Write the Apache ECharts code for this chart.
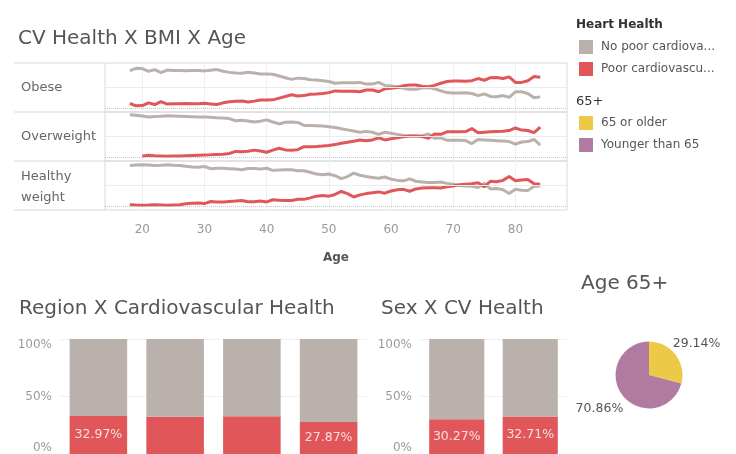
<!DOCTYPE html>
<html><head><meta charset="utf-8">
<script src="https://cdn.jsdelivr.net/npm/echarts@6/dist/echarts.min.js"></script>
<style>html,body{margin:0;padding:0;background:#fff}#c{width:736px;height:454px}</style>
</head><body><div id="c"></div>
<script>
// ---- data ----
const ages = [18,19,20,21,22,23,24,25,26,27,28,29,30,31,32,33,34,35,36,37,38,39,40,41,42,43,44,45,46,47,48,49,50,51,52,53,54,55,56,57,58,59,60,61,62,63,64,65,66,67,68,69,70,71,72,73,74,75,76,77,78,79,80,81,82,83,84];
const ageTicks = [20,30,40,50,60,70,80];
const bmiGroups = ['Obese','Overweight','Healthy\nweight'];
const heartHealth = ['No poor cardiovascular health','Poor cardiovascular health'];

const obeseRed = [11.5,6,6.5,13,9,16,10,11,11,11.5, 11,11,12,10.5,9,13,15.5,17,17.5,15, 17,19.5,19.5,20,24,28,32,29,30,33, 33.5,35,37,41,40,40,40,39,43,43, 39,46,47.5,49,53,55,55,52,51,54, 59,63,64,64,63.5,65,70,66,72,72.5, 70,74,61,61,65,75,73];
const obeseGrey = [88.5,94,93.5,87,91,84,90,89,89,88.5, 89,89,88,89.5,91,87,84.5,83,82.5,85, 83,80.5,80.5,80,76,72,68,71,70,67, 66.5,65,63,59,60,60,60,61,57,57, 61,54,52.5,51,47,45,45,48,49,46, 41,37,36,36,36.5,35,30,34,28,27.5, 30,26,39,39,35,25,27];
const overweightRed = [null,null,3,5,4,3.5,2.5,3,3.5,4, 4.5,5,5.5,6,7,7.5,9,14,13,14.5, 17,15,12,17,21.5,17.5,17,18,25,25, 25.5,26.5,28,30,33,35.5,38,41,39,41, 46,41,43.5,46,48.5,50,50,49,45,55, 54,60,60,60,60.5,67.5,58,59,60,61, 61.5,63,69,64,63,58,71];
const overweightGrey = [100,99,97,95,96,96.5,97.5,97,96.5,96, 95.5,95,94.5,94,93,92.5,91,86,87,85.5, 83,85,88,83,78.5,82.5,83,82,75,75, 74.5,73.5,72,70,67,64.5,62,59,61,59, 54,59,56.5,54,51.5,50,50,51,55,45, 46,40,40,40,39.5,32.5,42,41,40,39, 38.5,37,31,36,37,42,29];
const healthyRed = [4,3,2.5,3,4,3.5,2.5,3.5,4,6, 7.5,8,6.5,11.5,10.5,10.5,11.5,12.5,14,11, 11,12.5,10.5,15.5,14.5,14,14,16.5,16.5,20, 24,25.5,24,28,35,30,22,27,30,32, 34,31,36,39,40,35.5,41,43,44,44, 43,46,48,51,52,53,55.5,46,59,58, 61,70,60,62,63,53,52];
const healthyGrey = [96,97,97.5,97,96,96.5,97.5,96.5,96,94, 92.5,92,93.5,88.5,89.5,89.5,88.5,87.5,86,89, 89,87.5,89.5,84.5,85.5,86,86,83.5,83.5,80, 76,74.5,76,72,65,70,78,73,70,68, 66,69,64,61,60,64.5,59,57,56,56, 57,54,52,49,48,47,44.5,54,41,42, 39,30,40,38,37,47,48];

const regions = ['Region 1','Region 2','Region 3','Region 4'];
const regionPoor = [32.97,32.3,32.8,27.87];
const regionNoPoor = [67.03,67.7,67.2,72.13];
const sexes = ['Sex 1','Sex 2'];
const sexPoor = [30.27,32.71];
const sexNoPoor = [69.73,67.29];
const ageGroups = ['65 or older','Younger than 65'];
const ageShare = [29.14,70.86];

// ---- styles ----
const GREY = '#bab0ac', RED = '#e15759', YELLOW = '#edc948', PURPLE = '#b07aa1';
const FONT = 'DejaVu Sans';
const panelTops = [63,112,161];
const panelH = 49;
const lineSets = [[obeseGrey, obeseRed],[overweightGrey, overweightRed],[healthyGrey, healthyRed]];

const grids = [], xAxes = [], yAxes = [], series = [];
panelTops.forEach((t, i) => {
  grids.push({left:105, width:462, top:t, height:panelH, show:true, borderColor:'#d9d9d9', borderWidth:1});
  xAxes.push({type:'value', gridIndex:i, min:14, max:88.3,
    axisLine:{show:false}, axisTick:{show:false, customValues:ageTicks},
    axisLabel:{show:i===2, customValues:ageTicks, color:'#999', fontSize:12, margin:14, fontFamily:FONT},
    splitLine:{show:true, lineStyle:{color:'#efefef', width:1}},
    name:i===2?'Age':'', nameLocation:'middle', nameGap:42,
    nameTextStyle:{color:'#555', fontWeight:'bold', fontSize:12, fontFamily:FONT}});
  yAxes.push({type:'value', gridIndex:i, min:-8.5, max:106.5, show:false});
  const [g, r] = lineSets[i];
  series.push({type:'line', name:heartHealth[0], xAxisIndex:i, yAxisIndex:i, showSymbol:false, symbol:'none',
    color:GREY, lineStyle:{width:3, color:GREY}, itemStyle:{color:GREY},
    data: ages.map((a, k) => [a, g[k]]),
    markLine:{silent:true, symbol:'none', label:{show:false}, animation:false,
      data:[{yAxis:50, lineStyle:{color:'#ececec', type:'solid', width:1}},
            {yAxis:0, lineStyle:{color:'#c4c4c4', type:'dotted', width:1}}]}});
  series.push({type:'line', name:heartHealth[1], xAxisIndex:i, yAxisIndex:i, showSymbol:false, symbol:'none',
    color:RED, lineStyle:{width:3, color:RED}, itemStyle:{color:RED}, connectNulls:false,
    data: ages.map((a, k) => [a, r[k]])});
});

// bar grids
function barLabel(arr){
  const mx = Math.max(...arr), mn = Math.min(...arr);
  return {show:true, position:'inside', color:'rgba(255,255,255,0.8)', fontSize:12.5, fontFamily:FONT,
    formatter: p => (p.value === mx || p.value === mn) ? p.value.toFixed(2) + '%' : ''};
}
const barGridDefs = [
  {left:60, width:307, cats:regions, poor:regionPoor, nopoor:regionNoPoor},
  {left:420, width:147, cats:sexes, poor:sexPoor, nopoor:sexNoPoor}
];
barGridDefs.forEach((d, j) => {
  const gi = 3 + j;
  grids.push({left:d.left, width:d.width, top:339, bottom:0});
  xAxes.push({type:'category', gridIndex:gi, data:d.cats, axisLine:{show:false}, axisTick:{show:false}, axisLabel:{show:false}});
  yAxes.push({type:'value', gridIndex:gi, min:0, max:100, interval:50,
    axisLine:{show:false}, axisTick:{show:false},
    axisLabel:{formatter:'{value}%', color:'#999', fontSize:12, margin:8, fontFamily:FONT,
      verticalAlignMaxLabel:'top', verticalAlignMinLabel:'bottom'},
    splitLine:{lineStyle:{color:'#f0f0f0'}}});
  series.push({type:'bar', name:heartHealth[1], xAxisIndex:gi, yAxisIndex:gi, stack:'s'+j, barCategoryGap:'25%',
    itemStyle:{color:RED}, data:d.poor, label:barLabel(d.poor)});
  series.push({type:'bar', name:heartHealth[0], xAxisIndex:gi, yAxisIndex:gi, stack:'s'+j, barCategoryGap:'25%',
    itemStyle:{color:GREY}, data:d.nopoor});
});

series.push({type:'pie', name:'65+', center:[649,375], radius:33.5, startAngle:90, clockwise:true,
  data: ageGroups.map((n, k) => ({name:n, value:ageShare[k], itemStyle:{color:[YELLOW, PURPLE][k]}})),
  label:{show:true, position:'outside', color:'#555', fontSize:12.5, fontFamily:FONT, overflow:'none', alignTo:'none',
    formatter: p => p.value.toFixed(2) + '%'},
  labelLine:{show:false, length:4, length2:0},
  labelLayout: p => p.dataIndex === 0 ? {dx:-11, dy:-8} : {dx:9, dy:11}});

const titleStyle = {fontSize:20, color:'#555', fontWeight:'normal', fontFamily:FONT};
const option = {
  animation:false,
  textStyle:{fontFamily:FONT},
  title:[
    {text:'CV Health X BMI X Age', left:18, top:29, padding:0, textStyle:titleStyle},
    {text:'Region X Cardiovascular Health', left:19, top:299, padding:0, textStyle:titleStyle},
    {text:'Sex X CV Health', left:381, top:299, padding:0, textStyle:titleStyle},
    {text:'Age 65+', left:581, top:274, padding:0, textStyle:titleStyle},
    {text:'Heart Health', left:576, top:19, padding:0, textStyle:{fontSize:12, color:'#333', fontWeight:'bold', fontFamily:FONT}},
    {text:'65+', left:576, top:95, padding:0, textStyle:{fontSize:13, color:'#333', fontWeight:'normal', fontFamily:FONT}}
  ],
  legend:[
    {data:heartHealth, left:579, top:40, padding:0, orient:'vertical', icon:'rect', itemWidth:14, itemHeight:14, itemGap:8, selectedMode:false,
      textStyle:{color:'#555', fontSize:12, width:117, overflow:'truncate', ellipsis:'...', fontFamily:FONT, padding:[0,0,0,3]}},
    {data:ageGroups, left:579, top:116, padding:0, orient:'vertical', icon:'rect', itemWidth:14, itemHeight:14, itemGap:8, selectedMode:false,
      textStyle:{color:'#555', fontSize:12, fontFamily:FONT, padding:[0,0,0,3]}}
  ],
  graphic:[
    ...panelTops.concat([210]).map(y => ({type:'line', shape:{x1:14, y1:y, x2:105, y2:y}, style:{stroke:'#d9d9d9', lineWidth:1}})),
    {type:'text', left:21, top:81, style:{text:bmiGroups[0], fill:'#666', fontSize:13, fontFamily:FONT}},
    {type:'text', left:21, top:130, style:{text:bmiGroups[1], fill:'#666', fontSize:13, fontFamily:FONT}},
    {type:'text', left:21, top:166, style:{text:bmiGroups[2], fill:'#666', fontSize:13, lineHeight:21, fontFamily:FONT}}
  ],
  grid:grids, xAxis:xAxes, yAxis:yAxes, series:series
};
const chart = echarts.init(document.getElementById('c'), null, {renderer:'canvas'});
chart.setOption(option);
</script></body></html>
